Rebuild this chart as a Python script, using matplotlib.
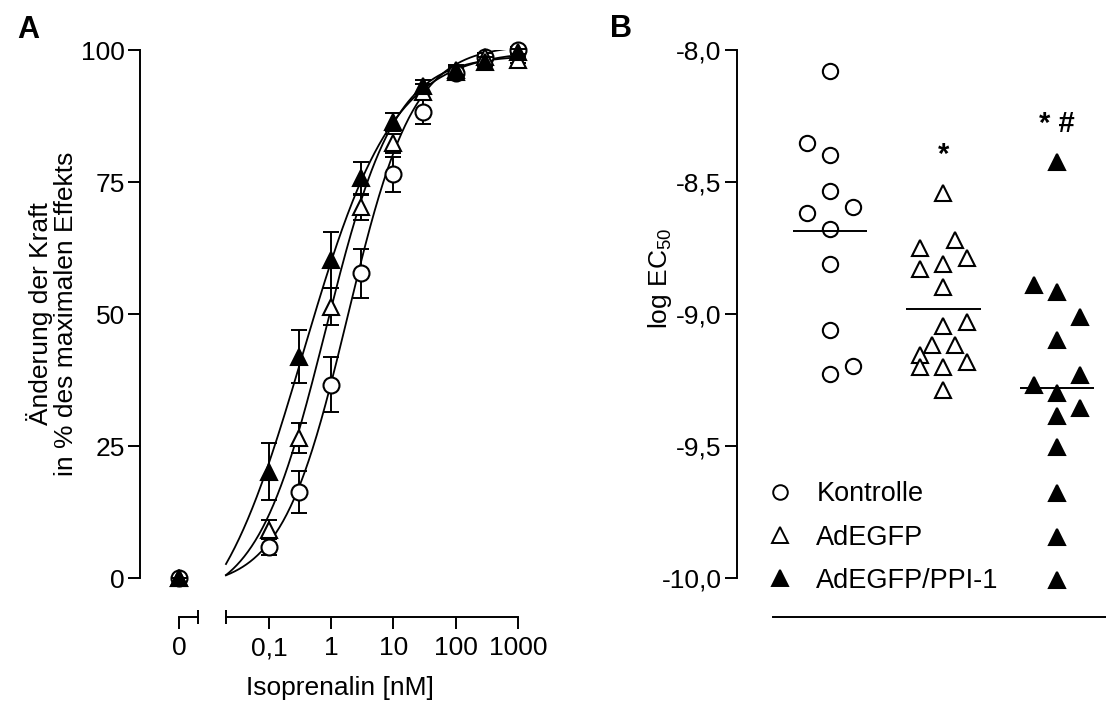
import numpy as np
import matplotlib
matplotlib.use("Agg")
import matplotlib.pyplot as plt
from matplotlib.lines import Line2D
from matplotlib.ticker import FixedLocator, NullFormatter

plt.rcParams['font.family'] = ['Liberation Sans', 'DejaVu Sans']
plt.rcParams['mathtext.fontset'] = 'custom'
plt.rcParams['mathtext.rm'] = 'Liberation Sans'
plt.rcParams['mathtext.it'] = 'Liberation Sans:italic'
plt.rcParams['font.size'] = 19

# ---- panel A: concentration-response (mean +/- SEM)
conc = [0, 0.1, 0.3, 1, 3, 10, 30, 100, 300, 1000]
ctrl_mean = [0, 5.9, 16.3, 36.6, 57.7, 76.5, 88.3, 95.6, 98.7, 100.0]
ctrl_sem = [0, 1.6, 4.0, 5.2, 4.7, 3.3, 2.4, 1.0, 0.8, 0.5]
egfp_mean = [0, 9.1, 26.5, 51.4, 70.3, 82.3, 92.1, 95.9, 98.7, 98.1]
egfp_sem = [0, 1.8, 2.8, 3.5, 2.5, 1.8, 1.5, 1.0, 0.8, 0.6]
ppi_mean = [0, 20.1, 41.9, 60.2, 75.7, 86.4, 93.1, 96.2, 97.8, 99.7]
ppi_sem = [0, 5.4, 5.0, 5.3, 3.1, 1.7, 1.3, 1.0, 0.8, 0.5]

# fitted curve parameters: bottom, top, logEC50 (nM), hill slope
ctrl_fit = (-2.0, 101.0, 0.262, 0.82)
egfp_fit = (-5.0, 99.0, -0.09, 0.78)
ppi_fit = (-15.0, 100.0, -0.455, 0.60)

x_ticks = [0.1, 1, 10, 100, 1000]
x_ticklabels = ['0,1', '1', '10', '100', '1000']
y_ticks_a = [0, 25, 50, 75, 100]

# ---- panel B: individual log EC50 values
groups = ['Kontrolle', 'AdEGFP', 'AdEGFP/PPI-1']
ctrl_ec50 = [-8.08, -8.351, -8.398, -8.533, -8.593, -8.619, -8.679, -8.811,
             -9.061, -9.197, -9.229]
ctrl_slot = [0, -1, 0, 0, 1, -1, 0, 0, 0, 1, 0]
egfp_ec50 = [-8.540, -8.720, -8.751, -8.789, -8.811, -8.831, -8.896, -9.029,
             -9.045, -9.117, -9.117, -9.155, -9.180, -9.202, -9.202, -9.288]
egfp_slot = [0, 0.5, -1, 1, 0, -1, 0, 1, 0, -0.5, 0.5, -1, 1, -1, 0, 0]
ppi_ec50 = [-8.423, -8.890, -8.915, -9.010, -9.098, -9.231, -9.269, -9.300,
            -9.357, -9.386, -9.503, -9.679, -9.843, -10.008]
ppi_slot = [0, -1, 0, 1, 0, 1, -1, 0, 1, 0, 0, 0, 0, 0]
signif = ['', '*', '* #']
y_ticks_b = [-10, -9.5, -9, -8.5, -8]
y_ticklabels_b = ['-10,0', '-9,5', '-9,0', '-8,5', '-8,0']


def hill(c, bottom, top, logec50, slope):
    return bottom + (top - bottom) / (1 + 10 ** ((logec50 - np.log10(c)) * slope))


W, H = 1106, 704
fig = plt.figure(figsize=(W / 100, H / 100), dpi=100)


def px_axes(x0, x1, y_top, y_bot):
    return fig.add_axes([x0 / W, 1 - y_bot / H, (x1 - x0) / W, (y_bot - y_top) / H])


lw = 1.4
tick_kw = dict(length=8.5, width=lw, pad=2.5, labelsize=19)

# ---------------- panel A
axA = px_axes(140, 518, 50, 578)
log_lo = -3.072          # left end of the axes (y axis position)
log_zero = -2.446        # where the "0" concentration is drawn
log_start = -1.691       # start of the log segment of the x axis
axA.set_xscale('log')
axA.set_xlim(10 ** log_lo, 1000)
axA.set_ylim(0, 100)
for s in ['top', 'right']:
    axA.spines[s].set_visible(False)
for s in ['left', 'bottom']:
    axA.spines[s].set_linewidth(lw)
axA.spines['bottom'].set_position(('outward', 28.1))
axA.spines['bottom'].set_bounds(10 ** log_start, 1000)
axA.set_xticks(x_ticks, x_ticklabels)
axA.xaxis.set_minor_locator(FixedLocator([10 ** log_start]))
axA.xaxis.set_minor_formatter(NullFormatter())
axA.tick_params(axis='x', which='major', **tick_kw)
axA.tick_params(axis='x', which='major', pad=5.5)
axA.tick_params(axis='x', which='minor', direction='inout', length=9.5, width=lw)
axA.set_yticks(y_ticks_a)
axA.tick_params(axis='y', **tick_kw)

cc = np.logspace(log_start, 3, 400)
xpos = [10 ** log_zero if c == 0 else c for c in conc]
series = [
    (ctrl_mean, ctrl_sem, ctrl_fit, 'o', 'white'),
    (egfp_mean, egfp_sem, egfp_fit, '^', 'white'),
    (ppi_mean, ppi_sem, ppi_fit, '^', 'black'),
]
for k, (m, e, fit, mk, fc) in enumerate(series):
    axA.plot(cc, hill(cc, *fit), color='black', lw=1.3, zorder=2)
    axA.errorbar(xpos, m, yerr=e, fmt='none', ecolor='black', elinewidth=1.4,
                 capsize=5.8, capthick=1.4, zorder=3 + k, clip_on=False)
    axA.plot(xpos, m, ls='none', marker=mk, markersize=11.5 if mk == 'o' else 12,
             mfc=fc, mec='black', mew=1.5, zorder=3 + k, clip_on=False)

# zero segment of the broken x axis
ax0 = px_axes(179, 197.7, 616, 617)
ax0.patch.set_visible(False)
for s in ['top', 'right', 'left']:
    ax0.spines[s].set_visible(False)
ax0.spines['bottom'].set_linewidth(lw)
ax0.set_xlim(0, 1)
ax0.set_yticks([])
ax0.set_xticks([0], ['0'])
ax0.xaxis.set_minor_locator(FixedLocator([1]))
ax0.xaxis.set_minor_formatter(NullFormatter())
ax0.tick_params(axis='x', which='major', **tick_kw)
ax0.tick_params(axis='x', which='major', pad=5.5)
ax0.tick_params(axis='x', which='minor', direction='inout', length=9.5, width=lw)

fig.text(52 / W, 1 - 314 / H, 'Änderung der Kraft\nin % des maximalen Effekts',
         rotation=90, ha='center', va='center', multialignment='center',
         linespacing=1.05, fontsize=19)
fig.text(340 / W, 1 - 688 / H, 'Isoprenalin [nM]', ha='center', va='center', fontsize=19)
fig.text(28 / W, 1 - 30 / H, 'A', ha='center', va='center', fontsize=22, fontweight='bold')

# ---------------- panel B
axB = px_axes(737, 1106, 50, 578)
axB.set_xlim(-0.819, 2.432)
axB.set_ylim(-10, -8)
for s in ['top', 'right']:
    axB.spines[s].set_visible(False)
for s in ['left', 'bottom']:
    axB.spines[s].set_linewidth(lw)
axB.spines['bottom'].set_position(('outward', 28.1))
axB.spines['bottom'].set_bounds(-0.502, 2.432)
axB.set_xticks([])
axB.set_yticks(y_ticks_b, y_ticklabels_b)
axB.tick_params(axis='y', **tick_kw)

step = 0.205
groups_b = [
    (ctrl_ec50, ctrl_slot, 'o', 'white'),
    (egfp_ec50, egfp_slot, '^', 'white'),
    (ppi_ec50, ppi_slot, '^', 'black'),
]
handles = []
for i, (vals, slot, mk, fc) in enumerate(groups_b):
    xs = [i + s * step for s in slot]
    ms = 11 if mk == 'o' else 11.5
    axB.plot(xs, vals, ls='none', marker=mk, markersize=ms, mfc=fc, mec='black',
             mew=1.5, clip_on=False, zorder=3)
    axB.hlines(np.mean(vals), i - 0.33, i + 0.33, color='black', lw=1.4, zorder=4)
    if signif[i]:
        axB.text(i, max(vals) + 0.09, signif[i], ha='center', va='bottom',
                 fontsize=21, fontweight='bold')
    handles.append(Line2D([], [], ls='none', marker=mk, markersize=ms - 0.5,
                          mfc=fc, mec='black', mew=1.4))

axB.legend(handles, groups, loc='lower left', bbox_to_anchor=(0.081, -0.03),
           frameon=False, fontsize=19.5, handlelength=1.0, handletextpad=0.83,
           labelspacing=0.64, borderpad=0, borderaxespad=0)

fig.text(660 / W, 1 - 278 / H, 'log EC$_{50}$', rotation=90, ha='center',
         va='center', fontsize=19)
fig.text(621 / W, 1 - 29 / H, 'B', ha='center', va='center', fontsize=22, fontweight='bold')

fig.savefig('out.png', dpi=100)
